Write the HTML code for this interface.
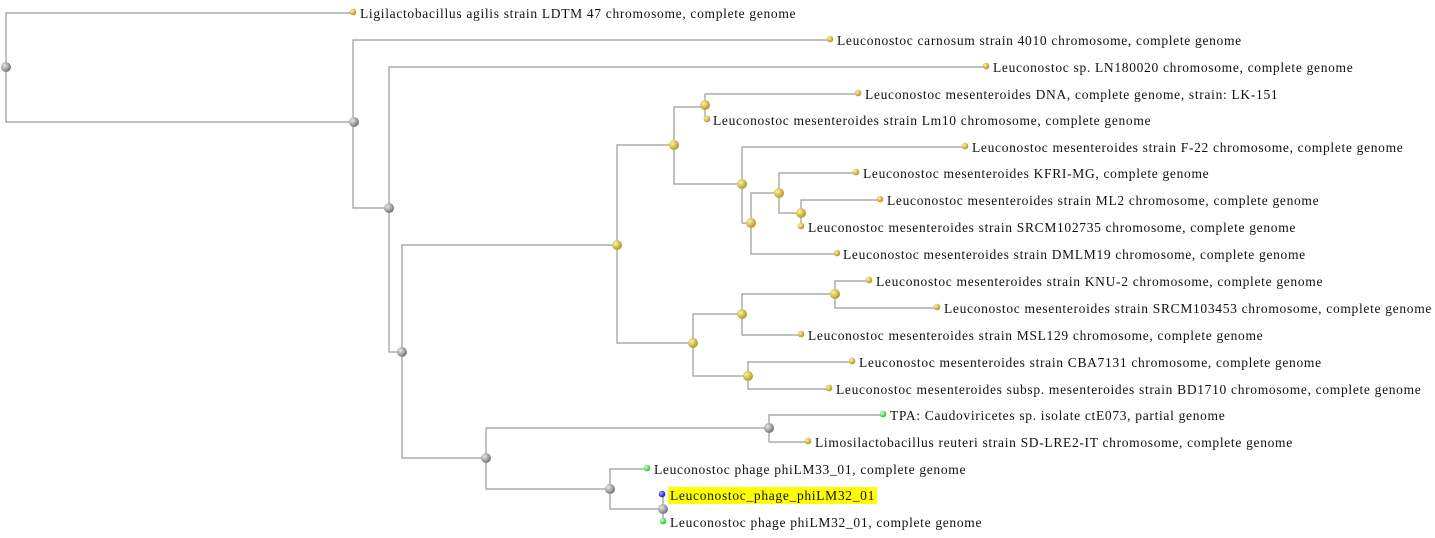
<!DOCTYPE html>
<html><head><meta charset="utf-8"><style>
html,body{margin:0;padding:0;background:#fff;}
svg{display:block;}
text{font-family:"Liberation Serif",serif;font-size:13.5px;letter-spacing:0.68px;fill:#111;}
</style></head><body>
<svg width="1435" height="538" viewBox="0 0 1435 538" xmlns="http://www.w3.org/2000/svg">
<defs>
<radialGradient id="g" cx="35%" cy="35%" r="70%"><stop offset="0" stop-color="#e8e8e8"/><stop offset="1" stop-color="#6e6e6e"/></radialGradient>
<radialGradient id="y" cx="35%" cy="35%" r="70%"><stop offset="0" stop-color="#fff3a0"/><stop offset="1" stop-color="#b0921a"/></radialGradient>
<radialGradient id="gr" cx="35%" cy="35%" r="70%"><stop offset="0" stop-color="#d0ffd0"/><stop offset="1" stop-color="#22c022"/></radialGradient>
<radialGradient id="b" cx="35%" cy="35%" r="70%"><stop offset="0" stop-color="#a0a0ff"/><stop offset="1" stop-color="#1010c0"/></radialGradient>
</defs>
<g stroke="#9a9a9a" stroke-width="1.2" fill="none">
<path d="M353,13 H6 V122 H353"/>
<path d="M830,40 H353 V208 H389"/>
<path d="M986,67 H389 V352 H402"/>
<path d="M617,245 H402 V458 H486"/>
<path d="M674,145 H617 V343 H693"/>
<path d="M705,107 H674 V184 H742"/>
<path d="M858,94 H705 V120"/>
<path d="M965,147 H742 V223 H751"/>
<path d="M779,193 H751 V254 H837"/>
<path d="M856,173 H779 V213 H801"/>
<path d="M880,200 H801 V227"/>
<path d="M742,314 H693 V376 H748"/>
<path d="M835,294 H742 V335 H801"/>
<path d="M869,281 H835 V308 H937"/>
<path d="M852,362 H748 V389 H829"/>
<path d="M769,428 H486 V489 H610"/>
<path d="M883,415 H769 V442 H808"/>
<path d="M647,469 H610 V509 H663"/>
<path d="M663,495 V522"/>
</g>
<g>
<circle cx="6" cy="67" r="5" fill="url(#g)"/>
<circle cx="354" cy="122" r="5" fill="url(#g)"/>
<circle cx="389" cy="208" r="5" fill="url(#g)"/>
<circle cx="402" cy="352" r="5" fill="url(#g)"/>
<circle cx="486" cy="458" r="5" fill="url(#g)"/>
<circle cx="769" cy="428" r="5" fill="url(#g)"/>
<circle cx="610" cy="489" r="5" fill="url(#g)"/>
<circle cx="663" cy="509" r="5" fill="url(#g)"/>
<circle cx="617" cy="245" r="5" fill="url(#y)"/>
<circle cx="674" cy="145" r="5" fill="url(#y)"/>
<circle cx="705" cy="105" r="5" fill="url(#y)"/>
<circle cx="742" cy="184" r="5" fill="url(#y)"/>
<circle cx="751" cy="223" r="5" fill="url(#y)"/>
<circle cx="779" cy="193" r="5" fill="url(#y)"/>
<circle cx="801" cy="213" r="5" fill="url(#y)"/>
<circle cx="693" cy="343" r="5" fill="url(#y)"/>
<circle cx="742" cy="314" r="5" fill="url(#y)"/>
<circle cx="835" cy="294" r="5" fill="url(#y)"/>
<circle cx="748" cy="376" r="5" fill="url(#y)"/>
</g>
<g>
<circle cx="353" cy="12" r="3.3" fill="url(#y)"/>
<circle cx="830" cy="39" r="3.3" fill="url(#y)"/>
<circle cx="986" cy="66" r="3.3" fill="url(#y)"/>
<circle cx="858" cy="93" r="3.3" fill="url(#y)"/>
<circle cx="707" cy="119" r="3.3" fill="url(#y)"/>
<circle cx="965" cy="146" r="3.3" fill="url(#y)"/>
<circle cx="856" cy="172" r="3.3" fill="url(#y)"/>
<circle cx="880" cy="199" r="3.3" fill="url(#y)"/>
<circle cx="801" cy="226" r="3.3" fill="url(#y)"/>
<circle cx="837" cy="253" r="3.3" fill="url(#y)"/>
<circle cx="869" cy="280" r="3.3" fill="url(#y)"/>
<circle cx="937" cy="307" r="3.3" fill="url(#y)"/>
<circle cx="801" cy="334" r="3.3" fill="url(#y)"/>
<circle cx="852" cy="361" r="3.3" fill="url(#y)"/>
<circle cx="829" cy="388" r="3.3" fill="url(#y)"/>
<circle cx="883" cy="414" r="3.3" fill="url(#gr)"/>
<circle cx="808" cy="441" r="3.3" fill="url(#y)"/>
<circle cx="647" cy="468" r="3.3" fill="url(#gr)"/>
<circle cx="662" cy="494" r="3.3" fill="url(#b)"/>
<circle cx="663" cy="521" r="3.3" fill="url(#gr)"/>
</g>
<rect x="668" y="487" width="209" height="17" fill="#ffff00"/>
<g>
<text x="360" y="18">Ligilactobacillus agilis strain LDTM 47 chromosome, complete genome</text>
<text x="837" y="45">Leuconostoc carnosum strain 4010 chromosome, complete genome</text>
<text x="993" y="72">Leuconostoc sp. LN180020 chromosome, complete genome</text>
<text x="865" y="99">Leuconostoc mesenteroides DNA, complete genome, strain: LK-151</text>
<text x="713" y="125">Leuconostoc mesenteroides strain Lm10 chromosome, complete genome</text>
<text x="972" y="152">Leuconostoc mesenteroides strain F-22 chromosome, complete genome</text>
<text x="863" y="178">Leuconostoc mesenteroides KFRI-MG, complete genome</text>
<text x="887" y="205">Leuconostoc mesenteroides strain ML2 chromosome, complete genome</text>
<text x="808" y="232">Leuconostoc mesenteroides strain SRCM102735 chromosome, complete genome</text>
<text x="843" y="259">Leuconostoc mesenteroides strain DMLM19 chromosome, complete genome</text>
<text x="876" y="286">Leuconostoc mesenteroides strain KNU-2 chromosome, complete genome</text>
<text x="944" y="313">Leuconostoc mesenteroides strain SRCM103453 chromosome, complete genome</text>
<text x="808" y="340">Leuconostoc mesenteroides strain MSL129 chromosome, complete genome</text>
<text x="859" y="367">Leuconostoc mesenteroides strain CBA7131 chromosome, complete genome</text>
<text x="836" y="394">Leuconostoc mesenteroides subsp. mesenteroides strain BD1710 chromosome, complete genome</text>
<text x="890" y="420">TPA: Caudoviricetes sp. isolate ctE073, partial genome</text>
<text x="815" y="447">Limosilactobacillus reuteri strain SD-LRE2-IT chromosome, complete genome</text>
<text x="654" y="474">Leuconostoc phage phiLM33_01, complete genome</text>
<text x="670" y="500">Leuconostoc_phage_phiLM32_01</text>
<text x="670" y="527">Leuconostoc phage phiLM32_01, complete genome</text>
</g>
</svg>
</body></html>
